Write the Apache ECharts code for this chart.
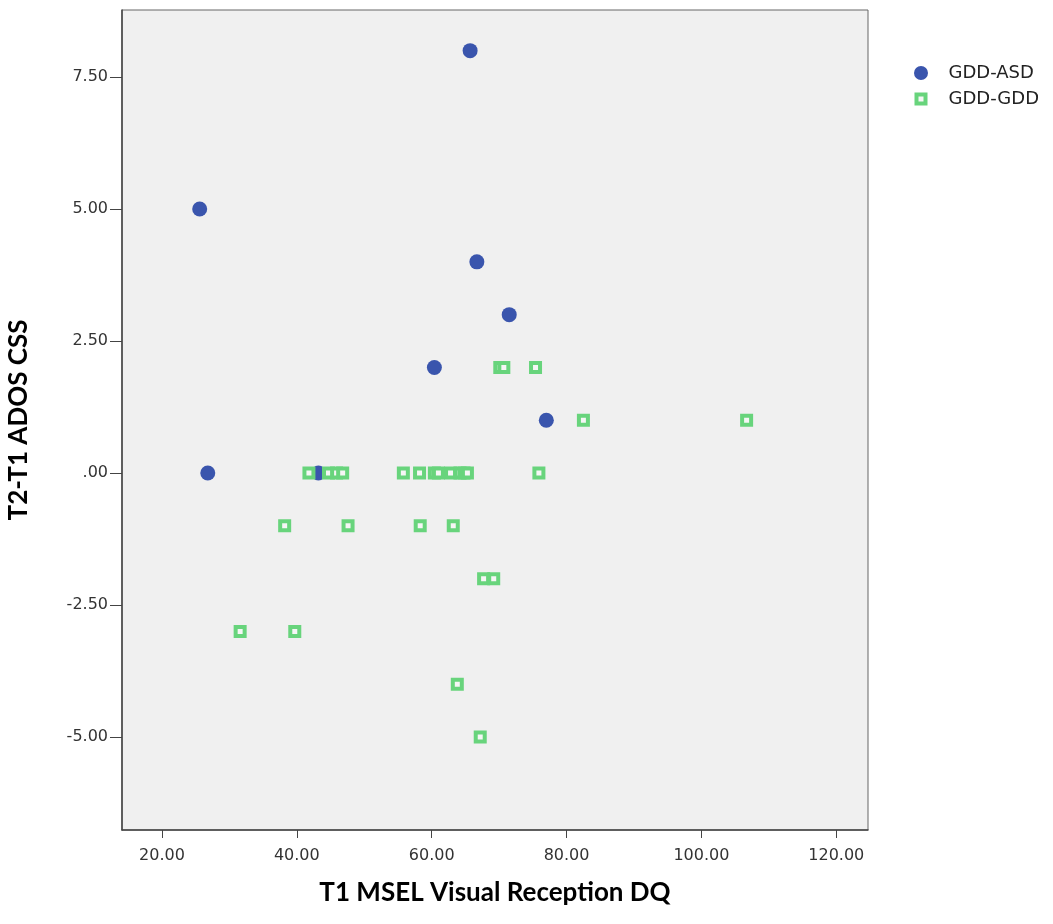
<!DOCTYPE html>
<html>
<head>
<meta charset="utf-8">
<script src="https://cdn.jsdelivr.net/npm/echarts@6/dist/echarts.min.js"></script>
<style>
  html, body { margin: 0; padding: 0; background: #fff; }
  #chart { width: 1053px; height: 924px; }
</style>
</head>
<body>
<div id="chart"></div>
<script>
// T1 MSEL Visual Reception DQ (x) vs T2-T1 ADOS CSS (y)
const asdX = [65.7, 25.6, 66.7, 71.5, 60.4, 77.0, 26.8, 43.2]
const asdY = [8, 5, 4, 3, 2, 1, 0, 0]

const gddX = [
  41.8, 44.7, 45.9, 46.8, 55.8, 58.2, 60.4, 61.0, 62.8, 64.2, 64.8, 65.3, 75.9,
  70.1, 70.7, 75.4,
  82.5, 106.7,
  38.2, 47.6, 58.3, 63.2,
  67.7, 69.2,
  31.6, 39.7,
  63.8,
  67.2
]
const gddY = [
  0, 0, 0, 0, 0, 0, 0, 0, 0, 0, 0, 0, 0,
  2, 2, 2,
  1, 1,
  -1, -1, -1, -1,
  -2, -2,
  -3, -3,
  -4,
  -5
]

const xTicks = [20, 40, 60, 80, 100, 120]
const yTicks = [-5, -2.5, 0, 2.5, 5, 7.5]

const pairs = (xs, ys) => xs.map((x, i) => [x, ys[i]])

const blue = '#3a55ad'
const green = '#68d47c'

const chart = echarts.init(document.getElementById('chart'))
const axisFont = { fontFamily: 'DejaVu Sans', fontSize: 16, color: '#333' }
const titleFont = { fontFamily: 'Lato', fontWeight: 'bold', fontSize: 26, color: '#000' }

chart.setOption({
  animation: false,
  grid: {
    left: 122, right: 185, top: 10, bottom: 94,
    outerBoundsMode: 'none',
    show: true,
    backgroundColor: '#f0f0f0',
    borderColor: '#666',
    borderWidth: 1
  },
  legend: {
    orient: 'vertical',
    left: 909,
    top: 59,
    itemWidth: 9,
    itemHeight: 9,
    itemGap: 8,
    textStyle: { fontFamily: 'DejaVu Sans', fontSize: 18, color: '#222', padding: [0, 0, 0, 18] },
    data: [
      { name: 'GDD-ASD', icon: 'circle', itemStyle: { color: blue, borderColor: blue, borderWidth: 5 } },
      { name: 'GDD-GDD', icon: 'rect', itemStyle: { color: '#f6f6f6', borderColor: green, borderWidth: 4 } }
    ]
  },
  xAxis: {
    type: 'value',
    min: 14.08,
    max: 124.7,
    name: 'T1 MSEL Visual Reception DQ',
    nameLocation: 'middle',
    nameGap: 50,
    nameTextStyle: titleFont,
    splitLine: { show: false },
    axisLine: { show: true, onZero: false, lineStyle: { color: '#444', width: 1.5 } },
    axisTick: { show: true, length: 8, customValues: xTicks, lineStyle: { color: '#444' } },
    axisLabel: {
      ...axisFont,
      margin: 18,
      customValues: xTicks,
      formatter: v => v.toFixed(2)
    }
  },
  yAxis: {
    type: 'value',
    min: -6.76,
    max: 8.77,
    name: 'T2-T1 ADOS CSS',
    nameLocation: 'middle',
    nameRotate: 90,
    nameGap: 90,
    nameTextStyle: titleFont,
    splitLine: { show: false },
    axisLine: { show: true, onZero: false, lineStyle: { color: '#444', width: 1.5 } },
    axisTick: { show: true, length: 12, customValues: yTicks, lineStyle: { color: '#444' } },
    axisLabel: {
      ...axisFont,
      margin: 14,
      customValues: yTicks,
      formatter: v => (v === 0 ? '.00' : v.toFixed(2))
    }
  },
  series: [
    {
      name: 'GDD-ASD',
      type: 'scatter',
      symbol: 'circle',
      symbolSize: 15,
      itemStyle: { color: blue, opacity: 1 },
      data: pairs(asdX, asdY)
    },
    {
      name: 'GDD-GDD',
      type: 'scatter',
      symbol: 'rect',
      symbolSize: 9,
      itemStyle: { color: '#f6f6f6', borderColor: green, borderWidth: 4, opacity: 1 },
      data: pairs(gddX, gddY)
    }
  ]
})
</script>
</body>
</html>
